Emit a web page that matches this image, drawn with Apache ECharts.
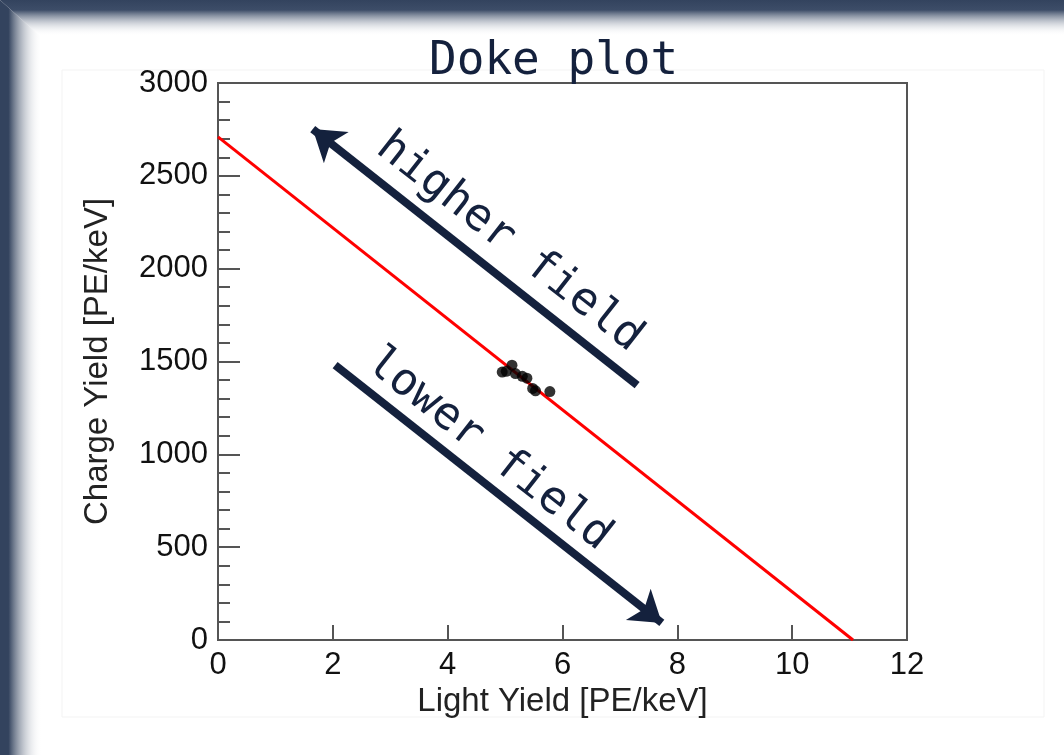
<!DOCTYPE html>
<html>
<head>
<meta charset="utf-8">
<script src="https://cdn.jsdelivr.net/npm/echarts@6/dist/echarts.min.js"></script>
<style>
  html, body { margin: 0; padding: 0; background: #ffffff; }
  #chart { width: 1064px; height: 755px; }
</style>
</head>
<body>
<div id="chart"></div>
<script>
// Measured yields (light vs charge), one point per drift field setting
const lightYield  = [4.95, 5.02, 5.12, 5.18, 5.30, 5.38, 5.48, 5.53, 5.78];
const chargeYield = [1443, 1447, 1480, 1435, 1420, 1410, 1355, 1342, 1338];

// Anti-correlation line: intercepts on both axes
const dokeLine = [[0, 2710], [11.06, 0]];

// Field-direction arrows (tail -> head) in data units
const higherArrow = [[7.30, 1373], [1.65, 2752]];
const lowerArrow  = [[2.04, 1481], [7.73, 92]];

const xTicks = [0, 2, 4, 6, 8, 10, 12];
const yTicks = [0, 500, 1000, 1500, 2000, 2500, 3000];

const navy = '#14213d';
const frameDark = '#33435e';

const chart = echarts.init(document.getElementById('chart'), null, { renderer: 'canvas' });

const arrowLabel = {
  show: true,
  position: 'insideStartTop',
  fontFamily: 'DejaVu Sans Mono',
  fontSize: 45,
  color: navy,
  formatter: p => p.name
};

chart.setOption({
  animation: false,
  backgroundColor: '#ffffff',
  title: {
    text: 'Doke plot',
    left: 424,
    top: 34,
    textStyle: { fontFamily: 'DejaVu Sans Mono', fontSize: 46, fontWeight: 'normal', color: navy }
  },
  graphic: [
    {
      type: 'polygon', silent: true, z: -10,
      shape: { points: [[0, 0], [1064, 0], [1064, 36], [40, 36]] },
      style: { fill: new echarts.graphic.LinearGradient(0, 0, 0, 1, [
        { offset: 0, color: frameDark }, { offset: 0.28, color: '#3d4d68' },
        { offset: 1, color: 'rgba(255,255,255,0)' }]) }
    },
    {
      type: 'polygon', silent: true, z: -10,
      shape: { points: [[0, 0], [40, 36], [42, 755], [0, 755]] },
      style: { fill: new echarts.graphic.LinearGradient(0, 0, 1, 0, [
        { offset: 0, color: frameDark }, { offset: 0.2, color: frameDark },
        { offset: 1, color: 'rgba(255,255,255,0)' }]) }
    },
    {
      type: 'rect', silent: true, z: -9,
      shape: { x: 62, y: 70, width: 982, height: 647 },
      style: { fill: 'none', stroke: '#f3f3f3', lineWidth: 1 }
    }
  ],
  grid: {
    left: 218, right: 157, top: 83, bottom: 115,
    show: true, borderColor: '#555', borderWidth: 2, backgroundColor: 'transparent'
  },
  xAxis: {
    type: 'value', min: 0, max: 12, interval: 2,
    name: 'Light Yield [PE/keV]', nameLocation: 'middle', nameGap: 40,
    nameTextStyle: { fontFamily: 'Liberation Sans', fontSize: 33, color: '#222' },
    axisLine: { show: true, lineStyle: { color: '#555', width: 2 } },
    axisTick: { show: true, inside: true, length: 15, lineStyle: { color: '#555', width: 2 } },
    splitLine: { show: false },
    axisLabel: {
      fontFamily: 'Liberation Sans', fontSize: 31, color: '#111', margin: 10,
      formatter: v => xTicks.includes(v) ? String(v) : ''
    }
  },
  yAxis: {
    type: 'value', min: 0, max: 3000, interval: 500,
    name: 'Charge Yield [PE/keV]', nameLocation: 'middle', nameGap: 104,
    nameTextStyle: { fontFamily: 'Liberation Sans', fontSize: 33, color: '#222' },
    axisLine: { show: true, lineStyle: { color: '#555', width: 2 } },
    axisTick: { show: true, inside: true, length: 22, lineStyle: { color: '#555', width: 2 } },
    minorTick: { show: true, splitNumber: 5, length: 12, lineStyle: { color: '#555', width: 2 } },
    splitLine: { show: false },
    axisLabel: {
      fontFamily: 'Liberation Sans', fontSize: 31, color: '#111', margin: 10,
      formatter: v => yTicks.includes(v) ? String(v) : ''
    }
  },
  series: [
    {
      type: 'line',
      data: dokeLine,
      symbol: 'none',
      lineStyle: { color: '#ff0000', width: 3 },
      z: 3
    },
    {
      type: 'scatter',
      data: lightYield.map((x, i) => [x, chargeYield[i]]),
      symbol: 'circle',
      symbolSize: 11,
      itemStyle: { color: '#000000' },
      z: 4
    },
    {
      type: 'lines',
      coordinateSystem: 'cartesian2d',
      polyline: false,
      symbol: ['none', 'arrow'],
      symbolSize: 30,
      lineStyle: { color: navy, width: 8, opacity: 1, curveness: 0 },
      label: arrowLabel,
      data: [
        { name: 'higher field', coords: higherArrow, label: { distance: [26, 10] } },
        { name: 'lower field', coords: lowerArrow, label: { distance: [24, 6] } }
      ],
      z: 5
    }
  ]
});
</script>
</body>
</html>
